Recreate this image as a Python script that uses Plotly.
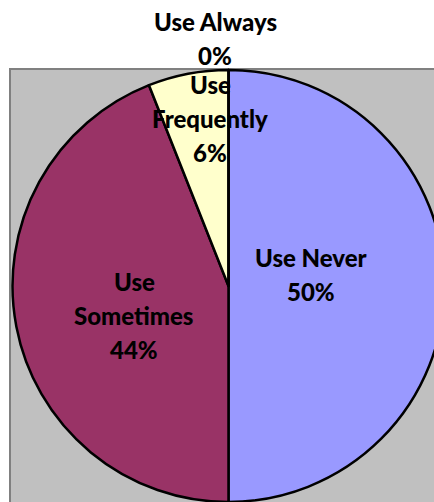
import plotly.graph_objects as go

# ---- data ----
labels = ["Use Never", "Use Sometimes", "Use Frequently", "Use Always"]
values = [50, 44, 6, 0]
display_labels = ["Use Never", "Use<br>Sometimes", "Use<br>Frequently", "Use Always"]
colors = ["#9999FF", "#993366", "#FFFFCC", "#CCFFFF"]

# ---- layout geometry (pixels) ----
W, H = 460, 520          # figure larger than the 434x502 window so the pie is clipped like the original
cx, cy, r = 228.5, 286.0, 216.0
label_pos = {            # block centres of the data labels, in pixels
    "Use Never": (310.5, 274.5),
    "Use Sometimes": (134.0, 315.5),
    "Use Frequently": (210.0, 118.5),
    "Use Always": (215.0, 38.5),
}
pitch = 34.0
FONT = "Lato"
FSIZE = 24

def px(x):
    return x / W

def py(y):
    return 1 - y / H

fig = go.Figure()
fig.add_trace(go.Pie(
    labels=labels,
    values=values,
    sort=False,
    direction="clockwise",
    rotation=0,
    textinfo="none",
    hoverinfo="label+percent",
    marker=dict(colors=colors, line=dict(color="black", width=2.5)),
    domain=dict(x=[px(cx - r), px(cx + r)], y=[py(cy + r), py(cy - r)]),
    showlegend=False,
))

total = sum(values)
annotations = []
for lab, disp, v in zip(labels, display_labels, values):
    lines = disp.split("<br>") + [f"{round(v / total * 100)}%"]
    bx, by = label_pos[lab]
    n = len(lines)
    for i, line in enumerate(lines):
        ly = by + (i - (n - 1) / 2) * pitch
        annotations.append(dict(
            x=px(bx), y=py(ly), xref="paper", yref="paper",
            text=line, showarrow=False,
            xanchor="center", yanchor="middle",
            font=dict(family=FONT, size=FSIZE, color="black", weight=900),
        ))

fig.update_layout(
    width=W, height=H,
    margin=dict(l=0, r=0, t=0, b=0),
    paper_bgcolor="white",
    plot_bgcolor="white",
    annotations=annotations,
    shapes=[dict(
        type="rect", xref="paper", yref="paper", layer="below",
        x0=px(10), x1=1.2, y0=-0.2, y1=py(69),
        fillcolor="#C0C0C0", line=dict(color="#808080", width=2),
    )],
)

fig.write_html(
    "out.html",
    post_script="document.documentElement.style.overflow='hidden';document.body.style.overflow='hidden';document.body.style.margin='0';",
)
